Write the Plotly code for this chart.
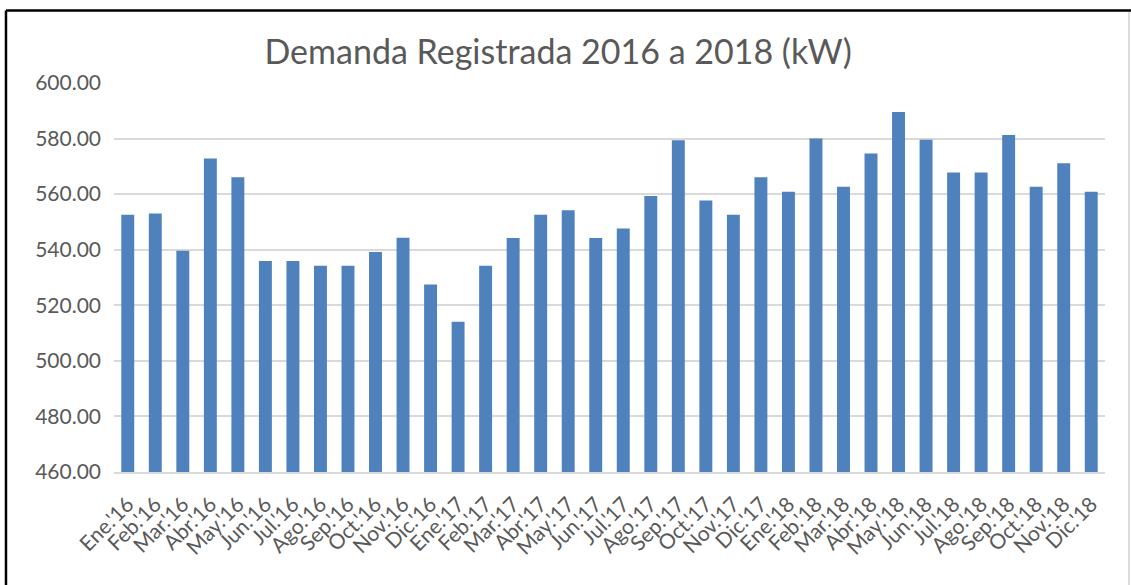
import plotly.graph_objects as go

# Monthly registered demand, Jan 2016 - Dec 2018 (kW)
months = ["Ene.", "Feb.", "Mar.", "Abr.", "May.", "Jun.",
          "Jul.", "Ago.", "Sep.", "Oct.", "Nov.", "Dic."]
years = ["'16", "'17", "'18"]
labels = [m + y for y in years for m in months]

demand_2016 = [552.6, 553.0, 539.6, 572.8, 566.1, 535.9,
               535.9, 534.2, 534.2, 539.2, 544.3, 527.5]
demand_2017 = [514.1, 534.2, 544.2, 552.6, 554.2, 544.2,
               547.6, 559.3, 579.4, 557.7, 552.6, 566.1]
demand_2018 = [560.9, 580.0, 562.7, 574.6, 589.6, 579.6,
               567.8, 567.8, 581.3, 562.7, 571.1, 560.9]
demand = demand_2016 + demand_2017 + demand_2018

y_ticks = [460, 480, 500, 520, 540, 560, 580, 600]
y_tick_text = [f"{v:.2f}" for v in y_ticks]

text_color = "#595959"
grid_color = "#D9D9D9"
font_family = "Lato, 'Open Sans', sans-serif"

fig = go.Figure(
    go.Bar(
        x=labels,
        y=demand,
        marker=dict(color="#4F81BD", line=dict(width=0)),
        hovertemplate="%{x}: %{y:.2f} kW<extra></extra>",
    )
)

fig.update_layout(
    width=1131,
    height=585,
    margin=dict(l=114, r=26, t=83, b=113),
    paper_bgcolor="white",
    plot_bgcolor="white",
    bargap=0.53,
    showlegend=False,
    title=dict(
        text="Demanda Registrada 2016 a 2018 (kW)",
        x=0.4935,
        xanchor="center",
        y=1 - 52 / 585,
        yanchor="middle",
        yref="container",
        font=dict(family=font_family, size=34, color=text_color),
    ),
    font=dict(family=font_family, size=20, color=text_color),
)

fig.update_yaxes(
    range=[460, 600],
    tickvals=y_ticks,
    ticktext=y_tick_text,
    showgrid=True,
    gridcolor=grid_color,
    gridwidth=1.5,
    zeroline=False,
    showline=False,
    ticks="",
    ticklabelstandoff=12,
    tickfont=dict(size=21, color=text_color),
)

fig.update_xaxes(
    type="category",
    tickangle=-45,
    showgrid=False,
    showline=True,
    linecolor=grid_color,
    linewidth=1.5,
    ticks="",
    ticklabelstandoff=10,
    tickfont=dict(size=21, color=text_color),
)

# Frame around the chart
fig.add_shape(type="line", xref="paper", yref="paper",
              x0=-0.109, x1=1.03, y0=(472 - 10.5) / 389, y1=(472 - 10.5) / 389,
              line=dict(color="black", width=2.5))
fig.add_shape(type="line", xref="paper", yref="paper",
              x0=-0.109, x1=-0.109, y0=(472 - 10.5) / 389, y1=-0.4,
              line=dict(color="black", width=2.5))
fig.add_shape(type="line", xref="paper", yref="paper",
              x0=(1129 - 114) / 991, x1=(1129 - 114) / 991,
              y0=(472 - 12) / 389, y1=-0.4,
              line=dict(color="#D0D0D0", width=1.5))

fig.write_html("out.html")
